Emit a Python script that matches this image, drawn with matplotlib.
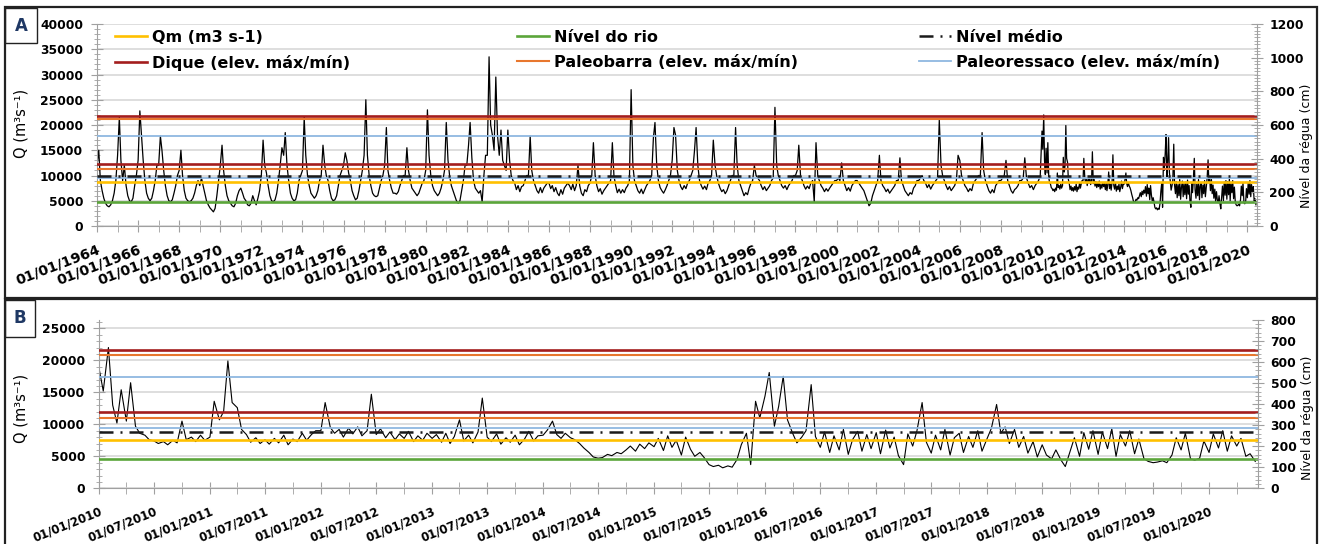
import numpy as np
import pandas as pd
import matplotlib
matplotlib.use("Agg")
import matplotlib.pyplot as plt
import matplotlib.dates as mdates
from matplotlib.ticker import MultipleLocator
from matplotlib.lines import Line2D
from matplotlib.patches import Rectangle

plt.rcParams['font.family'] = ['DejaVu Sans']
plt.rcParams['font.weight'] = 'bold'

W, H = 1321, 544

##monthly discharge 1964-2009 (x1000 m3/s), one row per year, Jan..Dec
q_mensal = [
    [12.0, 15.0, 9.0, 7.0, 5.5, 4.5, 4.0, 3.8, 4.2, 5.0, 6.5, 9.0],
    [14.0, 21.5, 13.0, 9.0, 12.0, 8.0, 6.0, 5.0, 4.8, 5.5, 8.0, 10.0],
    [13.0, 22.8, 18.0, 13.0, 9.0, 6.5, 5.5, 5.0, 5.5, 7.0, 9.0, 12.0],
    [12.0, 17.8, 15.0, 11.0, 8.0, 6.0, 5.0, 4.8, 5.2, 6.5, 8.0, 10.0],
    [11.0, 15.0, 10.0, 7.0, 5.5, 5.0, 4.8, 5.0, 5.5, 6.5, 8.0, 9.0],
    [8.0, 9.5, 8.0, 6.5, 5.0, 4.2, 3.6, 3.2, 2.8, 3.5, 6.0, 9.0],
    [12.0, 16.0, 11.0, 8.0, 6.0, 5.0, 4.5, 4.0, 3.8, 4.5, 6.0, 7.0],
    [7.5, 6.5, 5.5, 5.0, 4.2, 4.0, 4.5, 6.0, 5.0, 4.2, 5.5, 7.0],
    [10.0, 17.0, 12.0, 10.5, 8.0, 6.0, 5.0, 4.8, 5.2, 6.5, 9.0, 12.0],
    [15.5, 14.0, 18.5, 12.0, 9.0, 6.5, 5.5, 5.0, 5.2, 6.5, 9.0, 10.0],
    [11.0, 21.5, 14.0, 10.0, 8.0, 6.5, 6.0, 5.5, 6.0, 7.0, 9.0, 10.0],
    [16.0, 12.0, 10.0, 9.0, 7.0, 5.5, 5.0, 5.2, 6.0, 8.0, 10.0, 11.0],
    [12.0, 14.5, 13.0, 10.5, 9.0, 7.0, 6.0, 5.2, 5.5, 7.0, 9.0, 11.0],
    [14.0, 25.0, 14.0, 10.0, 8.0, 6.5, 6.0, 5.8, 6.0, 7.5, 9.0, 10.0],
    [12.0, 19.5, 11.0, 9.0, 7.5, 6.5, 6.5, 6.3, 6.8, 8.0, 9.0, 10.0],
    [10.0, 15.5, 11.0, 9.0, 7.5, 7.0, 6.5, 6.0, 6.5, 7.5, 8.5, 9.0],
    [11.0, 23.0, 14.0, 10.0, 8.0, 7.0, 6.5, 6.0, 6.5, 7.5, 9.0, 11.0],
    [20.5, 13.0, 10.0, 8.0, 7.0, 6.0, 5.0, 4.5, 5.0, 7.0, 9.0, 12.0],
    [12.0, 16.0, 20.5, 13.5, 9.0, 7.5, 7.0, 6.5, 7.0, 4.8, 10.0, 14.0],
    [14.0, 33.5, 20.0, 18.0, 15.0, 29.5, 18.0, 14.0, 19.0, 13.0, 12.0, 11.0],
    [19.0, 13.0, 10.0, 9.0, 8.5, 7.2, 8.0, 6.8, 7.8, 8.0, 9.0, 10.0],
    [10.0, 17.8, 11.0, 9.0, 8.0, 7.0, 6.5, 7.6, 6.6, 7.5, 8.0, 8.5],
    [8.5, 7.4, 8.0, 6.8, 7.6, 6.5, 6.0, 7.2, 6.3, 7.5, 8.0, 8.5],
    [8.0, 7.2, 8.3, 7.0, 8.0, 12.0, 8.0, 6.5, 6.0, 7.2, 6.8, 8.0],
    [8.5, 10.0, 16.5, 10.0, 8.0, 6.8, 7.4, 6.3, 7.0, 7.5, 8.0, 8.5],
    [9.0, 16.5, 10.0, 8.0, 6.6, 7.3, 6.5, 7.2, 6.6, 7.5, 8.0, 9.0],
    [27.0, 12.0, 9.0, 8.0, 7.0, 6.5, 7.3, 6.4, 7.2, 8.0, 8.5, 9.0],
    [10.0, 17.5, 20.5, 12.0, 9.0, 7.6, 7.0, 6.5, 7.2, 8.0, 9.0, 10.0],
    [13.0, 19.5, 18.0, 11.0, 9.0, 7.8, 7.2, 8.0, 7.4, 8.5, 9.0, 10.0],
    [11.0, 15.0, 19.5, 12.0, 9.0, 8.0, 7.3, 7.9, 7.2, 8.5, 9.0, 10.0],
    [17.0, 12.0, 10.0, 8.5, 7.5, 6.8, 7.2, 6.4, 7.0, 8.0, 9.0, 10.0],
    [10.0, 19.5, 12.0, 9.0, 8.0, 7.0, 6.0, 6.6, 6.2, 7.5, 8.5, 9.0],
    [12.0, 10.0, 9.5, 9.0, 8.0, 7.2, 7.8, 7.0, 7.5, 8.0, 9.0, 9.5],
    [23.5, 12.0, 10.0, 9.0, 8.0, 7.5, 8.0, 7.2, 8.0, 8.5, 9.0, 10.0],
    [10.0, 11.0, 16.0, 10.0, 9.0, 8.0, 7.3, 7.9, 7.4, 8.5, 9.0, 4.8],
    [16.5, 10.0, 9.0, 8.0, 7.5, 6.8, 7.4, 6.9, 7.5, 8.0, 8.5, 9.0],
    [9.0, 9.5, 9.0, 12.5, 9.0, 8.0, 7.0, 7.6, 6.9, 8.0, 8.5, 9.0],
    [9.0, 8.5, 8.0, 7.5, 7.0, 6.0, 5.0, 4.0, 4.5, 6.0, 7.0, 8.0],
    [9.0, 14.0, 9.0, 8.0, 7.5, 6.8, 7.3, 6.5, 7.0, 7.5, 8.0, 9.0],
    [9.0, 13.5, 9.0, 8.0, 7.0, 6.5, 6.0, 6.6, 6.3, 7.5, 8.0, 9.0],
    [9.0, 9.5, 10.0, 9.0, 8.5, 7.6, 8.2, 7.3, 8.0, 8.5, 9.0, 9.5],
    [21.0, 12.0, 10.0, 9.0, 8.0, 7.2, 7.8, 7.0, 7.5, 8.0, 9.0, 14.0],
    [13.0, 10.0, 9.0, 8.0, 7.5, 6.8, 7.4, 7.0, 8.5, 9.0, 9.5, 10.0],
    [10.0, 18.5, 11.0, 9.0, 8.0, 7.0, 6.5, 7.2, 6.6, 8.0, 8.5, 9.0],
    [9.0, 9.5, 10.0, 13.0, 9.0, 8.0, 7.0, 6.5, 7.2, 7.5, 8.0, 9.0],
    [9.0, 9.5, 13.5, 9.5, 8.5, 7.6, 8.0, 7.2, 8.0, 8.5, 9.0, 10.0],
]

##semi-monthly discharge 2010-2020 (x1000 m3/s), 1st and 15th of each month
q_quinzenal = [
    [18.8, 15.2, 22.0, 13.0, 10.2, 15.4, 10.5, 16.5, 9.7, 8.6, 8.3, 7.6, 7.4, 7.0, 7.3, 6.8, 7.5, 7.1, 10.5, 7.6, 8.0, 7.3, 8.3, 7.5],
    [8.0, 13.6, 10.7, 12.0, 19.9, 13.4, 12.6, 9.2, 8.4, 7.2, 7.9, 7.0, 7.6, 6.9, 7.8, 7.1, 8.3, 6.8, 7.7, 7.3, 8.6, 7.5, 8.4, 9.0],
    [9.0, 13.4, 9.5, 8.6, 9.2, 8.0, 9.4, 8.5, 9.6, 8.2, 9.0, 14.7, 8.4, 9.3, 7.9, 8.8, 7.6, 8.5, 7.8, 8.9, 7.3, 8.2, 7.5, 8.6],
    [7.8, 8.4, 7.2, 8.6, 7.0, 8.1, 10.7, 7.4, 8.3, 7.1, 8.8, 14.1, 8.0, 7.3, 8.5, 6.9, 7.9, 7.2, 8.3, 6.8, 7.7, 8.9, 7.4, 8.2],
    [8.3, 9.1, 10.5, 8.4, 7.8, 8.6, 7.9, 7.6, 7.0, 6.3, 5.6, 4.9, 4.7, 4.8, 5.3, 5.1, 5.6, 5.4, 6.0, 6.6, 5.8, 6.9, 6.2, 7.1],
    [6.5, 7.8, 5.9, 8.2, 6.4, 7.5, 5.2, 8.0, 6.1, 5.0, 5.6, 4.8, 3.7, 3.4, 3.6, 3.2, 3.5, 3.3, 4.5, 6.8, 8.6, 3.7, 13.6, 11.0],
    [14.4, 18.1, 9.7, 12.8, 17.5, 10.7, 8.6, 7.1, 8.0, 9.0, 16.2, 8.1, 6.4, 8.8, 5.6, 8.2, 6.0, 9.2, 5.3, 7.6, 8.9, 5.8, 8.4, 6.2],
    [8.7, 5.4, 9.1, 6.3, 8.0, 5.1, 3.7, 8.5, 6.6, 9.0, 13.4, 7.2, 5.5, 8.3, 6.0, 9.2, 5.2, 7.9, 8.6, 5.6, 8.1, 6.4, 9.0, 5.8],
    [7.8, 9.4, 13.1, 8.6, 9.6, 7.0, 9.2, 6.4, 8.1, 5.5, 7.3, 4.9, 6.8, 5.2, 4.6, 6.0, 4.4, 3.4, 5.8, 7.9, 5.0, 8.7, 6.1, 9.0],
    [5.3, 8.8, 6.2, 9.3, 5.0, 8.4, 6.6, 9.0, 5.4, 7.7, 4.6, 4.2, 4.0, 4.1, 4.3, 4.0, 5.2, 7.9, 6.0, 8.6, 4.6, 4.4, 4.7, 7.4],
    [5.6, 8.5, 6.3, 9.0, 5.8, 8.2, 6.6, 7.8, 5.0, 5.4, 4.2],
]

##reference levels in discharge units (m3/s): [max, min]
dique_a = [21850, 12200]
paleobarra_a = [21250, 11200]
paleoressaco_a = [17850, 9450]
nivel_medio_a = 9950
qm_a = 8700
nivel_rio_a = 4850

dique_b = [21600, 11900]
paleobarra_b = [20850, 10950]
paleoressaco_b = [17450, 9400]
nivel_medio_b = 8750
qm_b = 7500
nivel_rio_b = 4580

#colours
c_qm = '#FFC000'
c_rio = '#5BA53A'
c_medio = '#1a1a1a'
c_dique = '#A31D1D'
c_barra = '#E8772E'
c_ressaco = '#8FB8E0'
c_eixo = '#a0a0a0'
dash_medio = (5.6, 2.8, 0.8, 2.8)

#building the series
v_mensal = np.concatenate([np.array(r) for r in q_mensal]) * 1000
d_mensal = pd.date_range('1964-01-01', periods=len(v_mensal), freq='MS')
v_quinz = np.concatenate([np.array(r) for r in q_quinzenal]) * 1000
d_quinz = pd.date_range('2010-01-01', periods=len(v_quinz), freq='SMS')

d_a = np.concatenate([d_mensal.values, d_quinz.values])
v_a = np.concatenate([v_mensal, v_quinz])

fig = plt.figure(figsize=(W/100, H/100), dpi=100)
axA = fig.add_axes([97/W, 1-226/H, 1160/W, 202/H])
axB = fig.add_axes([99/W, 1-488.3/H, 1159/W, 168.3/H])


def linhas(ax, datas, q, dique, barra, ressaco, medio, qm, rio, lw_q):
    ax.plot(datas, q, color='black', lw=lw_q, zorder=2)
    for v in ressaco:
        ax.axhline(v, color=c_ressaco, lw=1.3, zorder=3)
    for v in barra:
        ax.axhline(v, color=c_barra, lw=1.5, zorder=3)
    for v in dique:
        ax.axhline(v, color=c_dique, lw=1.9, zorder=3)
    ax.axhline(medio, color=c_medio, lw=1.8, dashes=dash_medio, zorder=3)
    ax.axhline(qm, color=c_qm, lw=1.9, zorder=3)
    ax.axhline(rio, color=c_rio, lw=1.9, zorder=3)


def estilo(ax, ytop, rtop, rstep, xfs, rot, xpad):
    ax.set_ylim(0, ytop)
    ax.yaxis.set_major_locator(MultipleLocator(5000))
    ax.yaxis.set_minor_locator(MultipleLocator(1000))
    ax.grid(axis='y', which='major', color='#d4d4d4', lw=1.1)
    ax.set_axisbelow(True)
    for s in ['top', 'right']:
        ax.spines[s].set_visible(False)
    for s in ['left', 'bottom']:
        ax.spines[s].set_color(c_eixo)
    ax.tick_params(axis='y', which='major', direction='inout', length=8, color=c_eixo, labelsize=8.8, pad=6)
    ax.tick_params(axis='y', which='minor', direction='inout', length=4, color=c_eixo)
    ax.tick_params(axis='x', which='both', direction='inout', length=8, color=c_eixo, labelsize=xfs, pad=xpad)
    ax.xaxis.set_major_formatter(mdates.DateFormatter('%d/%m/%Y'))
    for lab in ax.get_xticklabels():
        lab.set_rotation(rot)
        lab.set_ha('right')
        lab.set_va('top')
        lab.set_rotation_mode('anchor')
    ax2 = ax.twinx()
    ax2.set_ylim(0, rtop)
    ax2.yaxis.set_major_locator(MultipleLocator(rstep))
    ax2.yaxis.set_minor_locator(MultipleLocator(20))
    for s in ['top', 'left', 'bottom']:
        ax2.spines[s].set_visible(False)
    ax2.spines['right'].set_color(c_eixo)
    ax2.tick_params(axis='y', which='major', direction='inout', length=8, color=c_eixo, labelsize=8.8, pad=5)
    ax2.tick_params(axis='y', which='minor', direction='inout', length=4, color=c_eixo)
    return ax2


#panel A
linhas(axA, d_a, v_a, dique_a, paleobarra_a, paleoressaco_a, nivel_medio_a, qm_a, nivel_rio_a, 0.9)
axA.set_xlim(pd.Timestamp('1964-01-01'), pd.Timestamp('2020-06-20'))
axA.xaxis.set_major_locator(mdates.YearLocator(2))
axA.xaxis.set_minor_locator(mdates.YearLocator(1))
axA2 = estilo(axA, 40000, 1200, 200, 10.2, 21, 8)
axA.set_ylabel('Q (m³s⁻¹)', fontsize=10.5)
axA.yaxis.set_label_coords((29-97)/1160, 0.51)
axA2.set_ylabel('Nível da régua (cm)', fontsize=9, rotation=90, va='top')
axA2.yaxis.set_label_coords((1300-97)/1160, 0.396)

#panel B
linhas(axB, d_quinz, v_quinz, dique_b, paleobarra_b, paleoressaco_b, nivel_medio_b, qm_b, nivel_rio_b, 0.8)
axB.set_xlim(pd.Timestamp('2010-01-01'), pd.Timestamp('2020-06-10'))
axB.xaxis.set_major_locator(mdates.MonthLocator(bymonth=[1, 7]))
axB.xaxis.set_minor_locator(mdates.MonthLocator(bymonth=[4, 10]))
axB2 = estilo(axB, 26300, 800, 100, 8.5, 22, 8)
axB.set_ylabel('Q (m³s⁻¹)', fontsize=10.5)
axB.yaxis.set_label_coords((29-99)/1159, 0.474)
axB2.set_ylabel('Nível da régua (cm)', fontsize=9, rotation=90, va='top')
axB2.yaxis.set_label_coords((1301-99)/1159, 0.42)

#legend: three columns as three small legends
h_qm = Line2D([], [], color=c_qm, lw=1.9)
h_rio = Line2D([], [], color=c_rio, lw=1.9)
h_medio = Line2D([], [], color=c_medio, lw=1.8, dashes=dash_medio)
h_dique = Line2D([], [], color=c_dique, lw=1.9)
h_barra = Line2D([], [], color=c_barra, lw=1.5)
h_ressaco = Line2D([], [], color=c_ressaco, lw=1.3)
colunas = [
    ([h_qm, h_dique], ['Qm (m3 s-1)', 'Dique (elev. máx/mín)']),
    ([h_rio, h_barra], ['Nível do rio', 'Paleobarra (elev. máx/mín)']),
    ([h_medio, h_ressaco], ['Nível médio', 'Paleoressaco (elev. máx/mín)']),
]
xs = [(115-97)/1160, (517-97)/1160, (919-97)/1160]
for i, (hs, ls) in enumerate(colunas):
    leg = axA.legend(hs, ls, loc='upper left', bbox_to_anchor=(xs[i], 0.972), frameon=False,
                     fontsize=11.5, handlelength=2.0, handletextpad=0.3, labelspacing=0.62,
                     borderpad=0, borderaxespad=0)
    if i < 2:
        axA.add_artist(leg)

#panel frames and letters
def caixa(x0, y0, x1, y1, lw):
    fig.add_artist(Rectangle((x0/W, 1-y1/H), (x1-x0)/W, (y1-y0)/H, transform=fig.transFigure,
                             fill=False, ec='#222222', lw=lw))

caixa(5, 7, 1317, 298, 1.6)
caixa(5, 299, 1317, 548, 1.6)
caixa(5, 8, 37, 43, 1.0)
caixa(5, 300, 35, 337, 1.0)
fig.text(21/W, 1-26/H, 'A', ha='center', va='center', fontsize=12, color='#1f3864', fontweight='bold')
fig.text(20/W, 1-318/H, 'B', ha='center', va='center', fontsize=12, color='#1f3864', fontweight='bold')

fig.savefig('out.png', dpi=100)
plt.close()
